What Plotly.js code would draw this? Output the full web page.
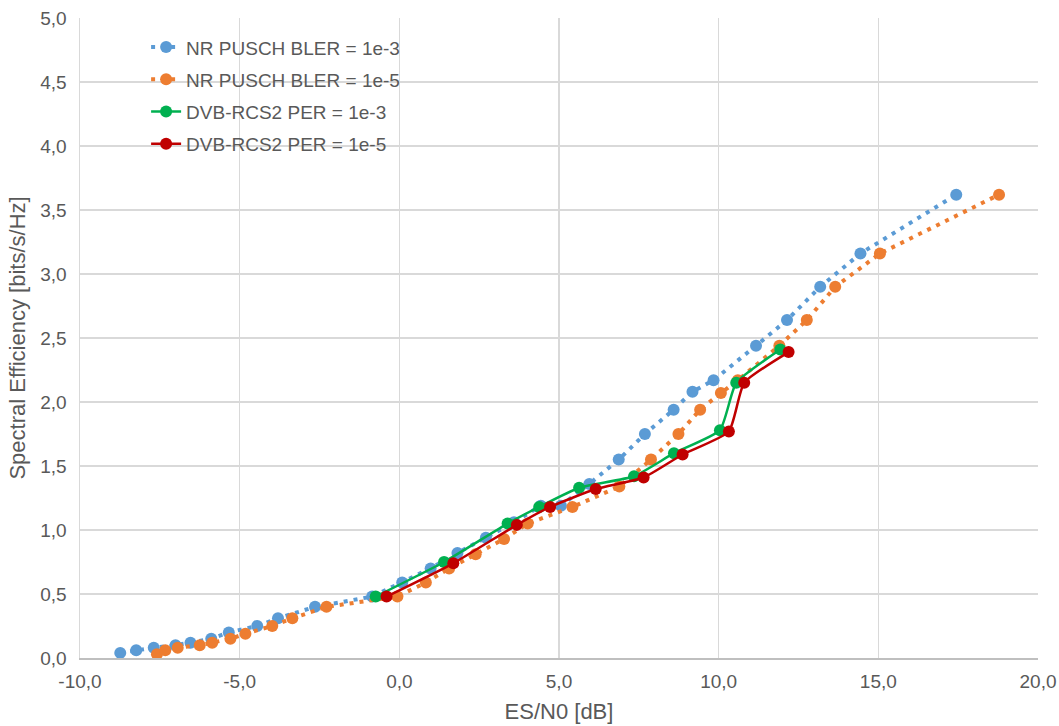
<!DOCTYPE html>
<html>
<head>
<meta charset="utf-8">
<script src="https://cdn.plot.ly/plotly-3.0.1.min.js"></script>
<style>html,body{margin:0;padding:0;background:#fff;}#chart{width:1059px;height:726px;}</style>
</head>
<body>
<div id="chart"></div>
<script>
var seriesNames = ["NR PUSCH BLER = 1e-3", "NR PUSCH BLER = 1e-5", "DVB-RCS2 PER = 1e-3", "DVB-RCS2 PER = 1e-5"];

var xTickVals = [-10, -5, 0, 5, 10, 15, 20];
var xTickText = ["-10,0", "-5,0", "0,0", "5,0", "10,0", "15,0", "20,0"];

var nr3X = [-8.74, -8.24, -7.69, -7.01, -6.54, -5.89, -5.34, -4.45, -3.80, -2.64, -0.85, 0.09, 0.98, 1.82, 2.71, 3.59, 4.43, 5.06, 5.95, 6.87, 7.69, 8.59, 9.18, 9.84, 11.17, 12.14, 13.18, 14.44, 17.44];
var nr3Y = [0.04, 0.06, 0.08, 0.10, 0.12, 0.15, 0.20, 0.25, 0.31, 0.40, 0.48, 0.59, 0.70, 0.82, 0.94, 1.06, 1.19, 1.19, 1.36, 1.55, 1.75, 1.94, 2.08, 2.17, 2.44, 2.64, 2.90, 3.16, 3.62];

var nr5X = [-7.59, -7.33, -6.94, -6.25, -5.86, -5.29, -4.82, -3.98, -3.35, -2.28, -0.06, 0.83, 1.56, 2.39, 3.28, 4.02, 5.42, 6.89, 7.88, 8.74, 9.42, 10.07, 10.60, 11.90, 12.76, 13.65, 15.05, 18.78];
var nr5Y = [0.03, 0.06, 0.08, 0.10, 0.12, 0.15, 0.19, 0.25, 0.31, 0.40, 0.48, 0.59, 0.70, 0.81, 0.93, 1.05, 1.18, 1.34, 1.55, 1.75, 1.94, 2.07, 2.17, 2.44, 2.64, 2.90, 3.16, 3.62];

var dvb3X = [-0.74, 1.40, 3.39, 4.38, 5.63, 7.35, 8.60, 10.04, 10.55, 11.93];
var dvb3Y = [0.48, 0.75, 1.05, 1.18, 1.33, 1.42, 1.60, 1.78, 2.15, 2.41];

var dvb5X = [-0.40, 1.69, 3.68, 4.72, 6.15, 7.65, 8.87, 10.32, 10.80, 12.19];
var dvb5Y = [0.48, 0.74, 1.04, 1.18, 1.32, 1.41, 1.59, 1.77, 2.15, 2.39];

var colors = ["#5B9BD5", "#ED7D31", "#00B050", "#C00000"];

var traces = [
  {x: nr3X, y: nr3Y, name: seriesNames[0], type: "scatter", mode: "lines+markers", legendgroup: "a",
   line: {color: colors[0], width: 4, dash: "4px,6px"}, marker: {color: colors[0], size: 12}},
  {x: nr5X, y: nr5Y, name: seriesNames[1], type: "scatter", mode: "lines+markers", legendgroup: "b",
   line: {color: colors[1], width: 4, dash: "4px,6px"}, marker: {color: colors[1], size: 12}},
  {x: dvb3X, y: dvb3Y, name: seriesNames[2], type: "scatter", mode: "lines+markers", legendgroup: "c",
   line: {color: colors[2], width: 2.5, shape: "spline", smoothing: 0.5}, marker: {color: colors[2], size: 12}},
  {x: dvb5X, y: dvb5Y, name: seriesNames[3], type: "scatter", mode: "lines+markers", legendgroup: "d",
   line: {color: colors[3], width: 2.5, shape: "spline", smoothing: 0.5}, marker: {color: colors[3], size: 12}}
];

var layout = {
  width: 1059, height: 726,
  margin: {l: 80, r: 21, t: 18, b: 68},
  paper_bgcolor: "#ffffff", plot_bgcolor: "#ffffff",
  separators: ", ",
  font: {family: "Liberation Sans, Arial, sans-serif", color: "#595959", size: 19},
  showlegend: true,
  legend: {x: 0.069, y: 0.984, xanchor: "left", yanchor: "top", bgcolor: "rgba(255,255,255,0)",
           font: {size: 19, color: "#595959"}, traceorder: "grouped", tracegroupgap: 4.5},
  xaxis: {
    range: [-10, 20], tickmode: "array", tickvals: xTickVals, ticktext: xTickText,
    showgrid: true, gridcolor: "#D9D9D9", gridwidth: 1.5,
    zeroline: false, showline: true, linecolor: "#BFBFBF", linewidth: 1.5, mirror: false,
    ticks: "", ticklabelstandoff: 6,
    title: {text: "ES/N0 [dB]", font: {size: 22, color: "#595959"}, standoff: 12}
  },
  yaxis: {
    range: [0, 5], dtick: 0.5, tick0: 0, tickformat: ".1f",
    showgrid: true, gridcolor: "#D9D9D9", gridwidth: 1.5,
    zeroline: false, showline: true, linecolor: "#D9D9D9", linewidth: 1.5,
    ticks: "", ticklabelstandoff: 8,
    title: {text: "Spectral Efficiency [bits/s/Hz]", font: {size: 22, color: "#595959"}, standoff: 8}
  }
};

Plotly.newPlot("chart", traces, layout, {displayModeBar: false, staticPlot: true});
</script>
</body>
</html>
